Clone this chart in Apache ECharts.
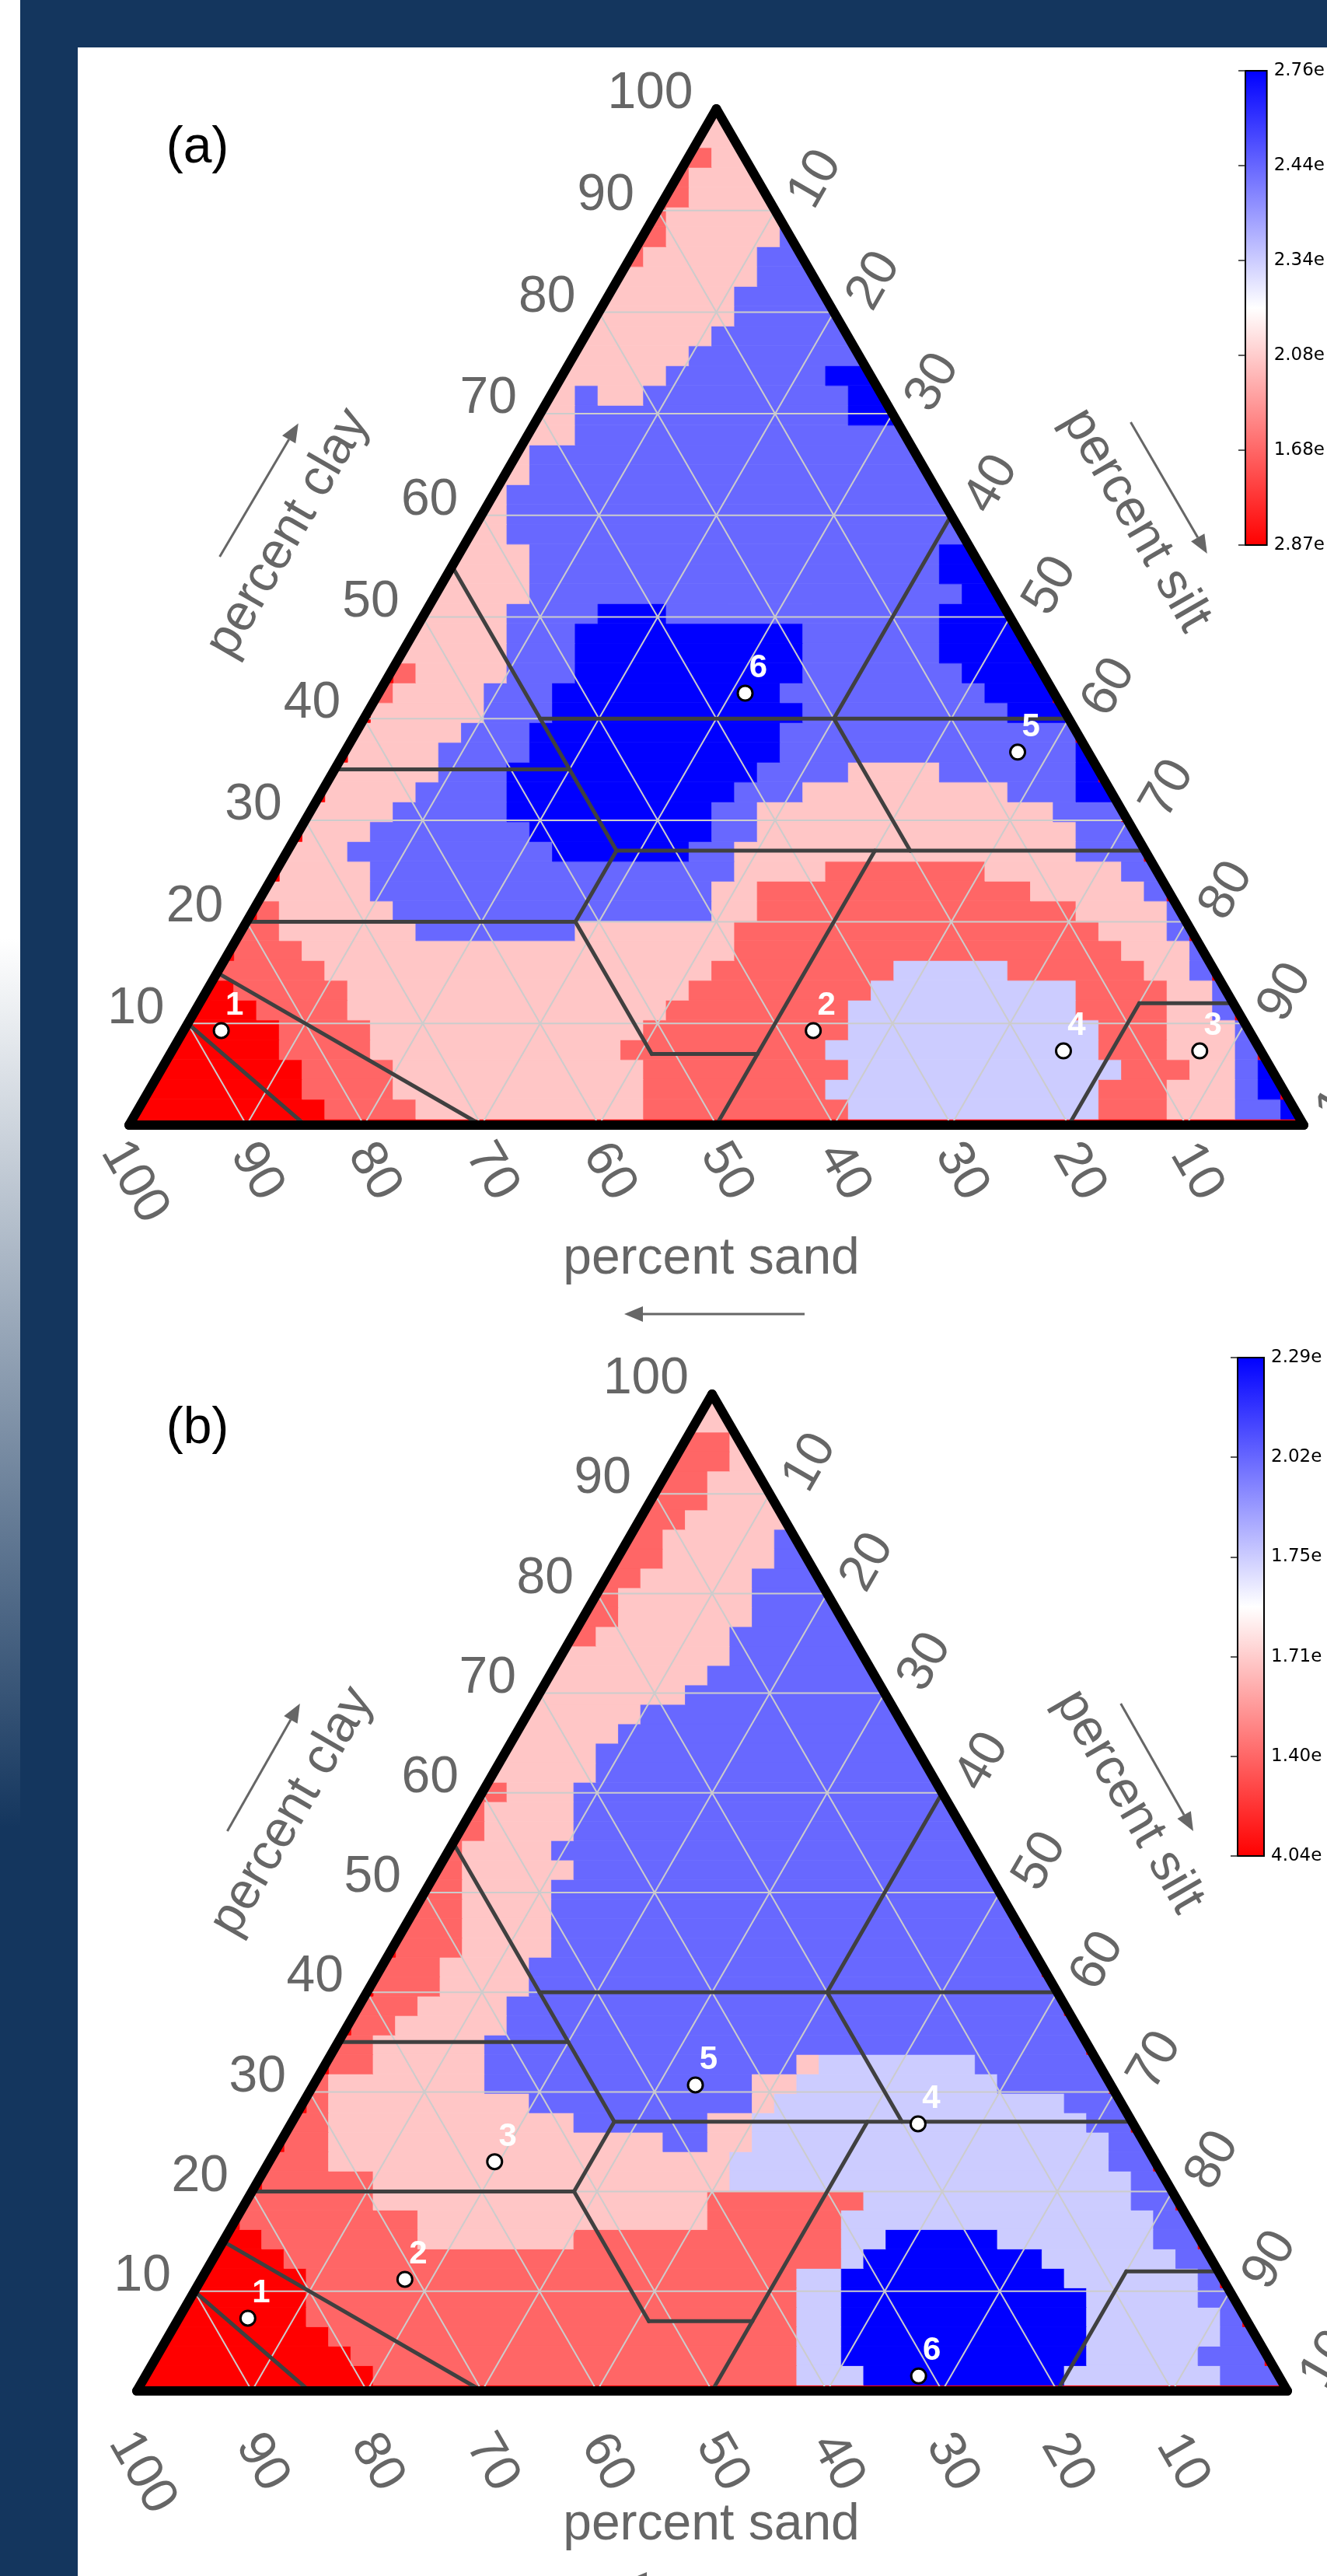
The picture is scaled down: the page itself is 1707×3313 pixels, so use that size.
<!DOCTYPE html>
<html><head><meta charset="utf-8">
<script src="https://cdn.jsdelivr.net/npm/echarts/dist/echarts.min.js"></script>
<style>html,body{margin:0;padding:0;background:#fff}#c{width:1707px;height:3313px}</style>
</head><body><div id="c"></div>
<script>
// ---------------- DATA ----------------
// class letters: R red, M salmon, P pink, L lavender, B mid blue, D deep blue
const classColors = {R:'#FF0000', M:'#FF6666', P:'#FFC6C6', L:'#CCCCFF', B:'#6868FF', D:'#0000FF'};
// rows of cells from bottom (row 0) to top (row 51); "X<n>" = class X starting at column n
const cellRowsA = [
 'R0',
 'R0 M9 P13 M23 L32 M43 P46 B49 D51',
 'R0 M8 P12 M23 L31 M43 P46 B49 D50',
 'R0 M8 P12 M23 L32 M44 P47 B49 D50',
 'R0 M7 P11 M22 L31 M43 P46 B49',
 'R0 M7 P11 M23 L32 M43 P46 B49',
 'R0 M6 P10 M24 L32 M42 P46 B48',
 'R0 M5 P10 M25 L33 M42 P46 B48',
 'M0 P9 M26 L34 M39 P45 B47',
 'M0 P8 M27 P44 B47',
 'M0 P7 B13 P20 M27 P43 B46',
 'M0 P7 B12 P26 M28 P42 B46',
 'P0 B11 P26 M28 P40 B45',
 'P0 B11 P27 M31 P38 B44',
 'P0 B10 D19 B25 P27 B42',
 'P0 B11 D18 B26 P28 B42',
 'P0 B12 D17 B26 P28 B41',
 'P0 B13 D17 B27 P30 B39 D42',
 'P0 B14 D17 B28 P32 B36 D42',
 'P0 B14 D18 B29 D42',
 'P0 B15 D18 B29 D42',
 'P0 B16 D19 B30 D39',
 'P0 M11 P12 B16 D19 B29 D38',
 'P0 M12 P13 B17 D20 B30 D37',
 'P0 B17 D20 B30 D36',
 'P0 B17 D20 B30 D36',
 'P0 B17 D21 B24 D36',
 'P0 B18 D37',
 'P0 B18 D36',
 'P0 B18 D36',
 'P0 B17',
 'P0 B17',
 'P0 B17',
 'P0 B18',
 'P0 B18',
 'P0 B20',
 'P0 B20 D32',
 'P0 B20 P21 B23 D32',
 'P0 B24 D31',
 'P0 B25',
 'P0 B26',
 'P0 B27',
 'P0 B27',
 'P0 B28',
 'M0 P23 B28',
 'M0 P24 B29',
 'M0 P24',
 'M0 P25',
 'M0 P25',
 'M0 P26',
 'P0',
 'P0'
];
const cellRowsB = [
 'R0',
 'R0 M11 L30 D33 L42 B49',
 'R0 M10 L30 D32 L43 B48',
 'R0 M9 L30 D32 L43 B49',
 'R0 M8 L30 D32 L43 B49',
 'R0 M8 L30 D32 L43 B48',
 'R0 M8 L30 D32 L42 B48',
 'R0 M7 L32 D33 L41 B47',
 'R0 M6 P13 M20 L32 D34 L39 B46',
 'M0 P13 M26 L32 B46',
 'M0 P11 M26 L33 B45',
 'M0 P11 L27 B45',
 'M0 P9 L27 B44',
 'M0 P9 B24 P26 L28 B44',
 'M0 P9 B20 P26 L28 B43',
 'M0 P9 B18 P28 L29 B42',
 'M0 P9 B16 P28 L30 B39',
 'M0 P11 B16 P30 L31 B38',
 'M0 P11 B16',
 'M0 P12 B17',
 'M0 P13 B17',
 'M0 P14 B18',
 'M0 P14 B18',
 'M0 P15 B19',
 'M0 P15 B19',
 'M0 P15 B19',
 'M0 P15 B19',
 'M0 P15 B20',
 'M0 P15 B19',
 'M0 P16 B20',
 'M0 P16 B20',
 'M0 P17 B20',
 'P0 B21',
 'P0 B21',
 'P0 B22',
 'P0 B23',
 'P0 B25',
 'P0 B26',
 'P0 B27',
 'M0 P21 B27',
 'M0 P22 B28',
 'M0 P22 B28',
 'M0 P23 B28',
 'M0 P24 B29',
 'M0 P24 B29',
 'M0 P25',
 'M0 P26',
 'M0 P26',
 'M0 P27',
 'M0 P27',
 'P0',
 'P0'
];
// sample points [sand, silt, clay]
const pointLabels = ['1','2','3','4','5','6'];
const pointsA = [[87.5,3.2,9.3],[37.1,53.6,9.3],[5.2,87.5,7.3],[16.8,75.9,7.3],[6.0,57.3,36.7],[26.3,31.2,42.5]];
const pointsB = [[86.7,6.0,7.3],[71.1,17.7,11.2],[57.4,19.6,23.0],[18.7,54.5,26.8],[36.1,33.2,30.7],[31.3,67.2,1.5]];
const tickValues = [10,20,30,40,50,60,70,80,90,100];
const gridValues = [10,20,30,40,50,60,70,80,90];
// USDA texture class boundaries, [sand, silt, clay] end points
const usdaLines = [
 [[45,0,55],[45,28,27]], [[45,15,40],[0,60,40]], [[20,40,40],[0,40,60]],
 [[65,0,35],[45,20,35]], [[45,28,27],[0,73,27]], [[20,40,40],[20,53,27]],
 [[80,0,20],[52,28,20]], [[45,28,27],[52,28,20]], [[52,28,20],[52,41,7]],
 [[52,41,7],[43,50,7]], [[50,50,0],[23,50,27]], [[20,80,0],[8,80,12]],
 [[8,80,12],[0,88,12]], [[90,0,10],[85,15,0]], [[85,0,15],[70,30,0]]
];
const cbarLabelsA = ['2.87e','1.68e','2.08e','2.34e','2.44e','2.76e'];
const cbarLabelsB = ['4.04e','1.40e','1.71e','1.75e','2.02e','2.29e'];

// ---------------- HELPERS ----------------
const NAVY = '#14365E', GRAY = '#666666';
const COLS = 52, SX = 1.9378, SY = 1.951;
const CLS = 'RMPLBD';
const FONT = 'Liberation Sans, Arial, sans-serif';
function tern(sand, silt, clay){ return [silt + clay/2, clay]; }
function parseRows(rows){
  const out = [];
  rows.forEach((s,k)=>{
    const runs = s.trim().split(/\s+/).map(t=>[t[0], parseInt(t.slice(1),10)]);
    runs.forEach((r,i)=>{
      const end = i+1 < runs.length ? runs[i+1][1]-1 : COLS-1;
      out.push([k, r[1], end, CLS.indexOf(r[0])]);
    });
  });
  // lower rows: grid cells whose centre falls outside the triangle show as the lowest colour
  rows.forEach((s,k)=>{
    if (k < 1 || k > 24) return;
    const yc = (k-0.2)*SY;
    for (let n=0;n<COLS;n++){
      const xc = (n+0.1)*SX;
      if (xc < yc/2 || xc > 100-yc/2) out.push([k, n, n, 0]);
    }
  });
  return out;
}
function clipPoly(pts, f){
  const out = [];
  for (let i=0;i<pts.length;i++){
    const a = pts[i], b = pts[(i+1)%pts.length];
    const fa = f(a), fb = f(b);
    if (fa >= 0) out.push(a);
    if ((fa >= 0) !== (fb >= 0)){
      const t = fa/(fa-fb);
      out.push([a[0]+t*(b[0]-a[0]), a[1]+t*(b[1]-a[1])]);
    }
  }
  return out;
}
const triClip = [p=>p[1], p=>p[0]-p[1]/2, p=>100-p[1]/2-p[0], p=>100-p[1]];
function renderCells(params, api){
  const k = api.value(0), c0 = api.value(1), c1 = api.value(2), ci = api.value(3);
  let poly = [[(c0-0.4)*SX,(k-0.7)*SY],[(c1+0.6)*SX,(k-0.7)*SY],[(c1+0.6)*SX,(k+0.3)*SY],[(c0-0.4)*SX,(k+0.3)*SY]];
  for (const f of triClip){ poly = clipPoly(poly, f); if (poly.length < 3) return null; }
  const col = classColors[CLS[ci]];
  return {type:'polygon', shape:{points: poly.map(p=>api.coord(p))}, style:{fill:col, stroke:col, lineWidth:0.8}};
}
function lineRenderer(color, width, cap){
  return function(params, api){
    const p1 = api.coord([api.value(0), api.value(1)]), p2 = api.coord([api.value(2), api.value(3)]);
    return {type:'line', shape:{x1:p1[0],y1:p1[1],x2:p2[0],y2:p2[1]}, style:{stroke:color, lineWidth:width, lineCap:cap}};
  };
}
function segs(list){ return list.map(([a,b])=>[...tern(...a), ...tern(...b)]); }
const gridSegList = [];
gridValues.forEach(v=>{
  gridSegList.push([[100-v,0,v],[0,100-v,v]]);
  gridSegList.push([[v,100-v,0],[v,0,100-v]]);
  gridSegList.push([[100-v,v,0],[0,v,100-v]]);
});
const borderList = [[[100,0,0],[0,100,0]],[[0,100,0],[0,0,100]],[[0,0,100],[100,0,0]]];
const tickData = [];
tickValues.forEach(v=>{
  tickData.push([...tern(100-v,0,v), v, 0]);   // clay, left edge
  tickData.push([...tern(v,100-v,0), v, 1]);   // sand, base
  tickData.push([...tern(0,v,100-v), v, 2]);   // silt, right edge
});
function tickRenderer(sandDy){
  return function(params, api){
    const p = api.coord([api.value(0), api.value(1)]);
    const v = api.value(2), kind = api.value(3);
    const txt = String(v), n = txt.length - 2;
    let x, y, rot = 0, align = 'center';
    if (kind === 0){ x = p[0]-30; y = p[1]-19; align = 'right'; }
    else if (kind === 1){ x = p[0]+13-6.5*n; y = p[1]+sandDy+13*n; rot = -Math.PI/3; }
    else { x = p[0]+52+9*n; y = p[1]-40-16*n; rot = Math.PI/3; }
    return {type:'text', x, y, rotation: rot, style:{text:txt, fill:GRAY, fontSize:66, fontFamily:FONT, align, verticalAlign:'middle'}};
  };
}
function renderPoint(params, api){
  const p = api.coord([api.value(0), api.value(1)]);
  const lbl = pointLabels[api.value(2)];
  return {type:'group', children:[
    {type:'circle', shape:{cx:p[0], cy:p[1], r:9.5}, style:{fill:'#fff', stroke:'#000', lineWidth:3}},
    {type:'text', x:p[0]+17, y:p[1]-32, style:{text:lbl, fill:'#fff', fontSize:42, fontWeight:'bold', fontFamily:FONT, align:'center', verticalAlign:'middle'}}
  ]};
}
function renderCbar(params, api){
  const a = api.coord([0,0]), b = api.coord([1,5]);
  return {type:'rect', shape:{x:a[0], y:b[1], width:b[0]-a[0], height:a[1]-b[1]},
    style:{fill:{type:'linear',x:0,y:0,x2:0,y2:1,colorStops:[{offset:0,color:'#0000FF'},{offset:0.5,color:'#FFFFFF'},{offset:1,color:'#FF0000'}]}, stroke:'#000', lineWidth:2}};
}
function panelSeries(idx, rows, pts, sandDy){
  return [
    {type:'custom', xAxisIndex:idx, yAxisIndex:idx, z:2, clip:false, renderItem:renderCells, data:parseRows(rows), animation:false},
    {type:'custom', xAxisIndex:idx, yAxisIndex:idx, z:3, clip:false, renderItem:lineRenderer('#CCCCCC',2,'butt'), data:segs(gridSegList), animation:false},
    {type:'custom', xAxisIndex:idx, yAxisIndex:idx, z:4, clip:false, renderItem:lineRenderer('#404040',5,'round'), data:segs(usdaLines), animation:false},
    {type:'custom', xAxisIndex:idx, yAxisIndex:idx, z:5, clip:false, renderItem:lineRenderer('#000000',12,'round'), data:segs(borderList), animation:false},
    {type:'custom', xAxisIndex:idx, yAxisIndex:idx, z:5, clip:false, renderItem:tickRenderer(sandDy), data:tickData, animation:false},
    {type:'custom', xAxisIndex:idx, yAxisIndex:idx, z:6, clip:false, renderItem:renderPoint,
      data: pts.map((p,i)=>[...tern(...p), i]), animation:false}
  ];
}
function arrow(x1,y1,x2,y2){
  const dx=x2-x1, dy=y2-y1, L=Math.hypot(dx,dy), ux=dx/L, uy=dy/L, hl=24, hw=10;
  const bx=x2-ux*hl, by=y2-uy*hl;
  return [
    {type:'line', z:20, shape:{x1,y1,x2:bx,y2:by}, style:{stroke:GRAY, lineWidth:3}},
    {type:'polygon', z:20, shape:{points:[[x2,y2],[bx-uy*hw,by+ux*hw],[bx+uy*hw,by-ux*hw]]}, style:{fill:GRAY}}
  ];
}
function title(text,x,y,rot,color,size){
  return {type:'text', z:20, x, y, rotation:rot||0, style:{text, fill:color||GRAY, fontSize:size||66, fontFamily:FONT, align:'center', verticalAlign:'middle'}};
}
function cbAxis(idx, labels){
  return {gridIndex:idx, type:'category', data:labels, boundaryGap:false, position:'right', z:5,
    axisLine:{show:false}, splitLine:{show:false},
    axisTick:{show:true, inside:true, length:9, interval:0, lineStyle:{color:'#222', width:1.5}},
    axisLabel:{show:true, interval:0, color:'#000', fontSize:23, fontFamily:'DejaVu Sans, sans-serif', margin:9}};
}
const hiddenVal = (g,min,max)=>({gridIndex:g, type:'value', min, max, show:false});

const option = {
  animation:false,
  backgroundColor:'#ffffff',
  grid:[
    {left:166, top:140, width:1511, height:1307},
    {left:176, top:1793, width:1480, height:1282},
    {left:1602, top:91, width:32, height:610},
    {left:1592, top:1746, width:34, height:641}
  ],
  xAxis:[hiddenVal(0,0,100), hiddenVal(1,0,100), hiddenVal(2,0,1), hiddenVal(3,0,1)],
  yAxis:[hiddenVal(0,0,100), hiddenVal(1,0,100), cbAxis(2,cbarLabelsA), cbAxis(3,cbarLabelsB)],
  graphic:[
    {type:'rect', z:0, shape:{x:26,y:0,width:1681,height:3313}, style:{fill:NAVY}},
    {type:'rect', z:0, shape:{x:100,y:61,width:1607,height:3252}, style:{fill:'#ffffff'}},
    {type:'rect', z:0, shape:{x:0,y:1207,width:26,height:1143}, style:{fill:{type:'linear',x:0,y:0,x2:0,y2:1,colorStops:[{offset:0,color:'#ffffff'},{offset:1,color:NAVY}]}}},
    {type:'rect', z:0, shape:{x:0,y:2350,width:26,height:963}, style:{fill:NAVY}},
    title('(a)',254,191,0,'#000'),
    title('(b)',254,1838,0,'#000'),
    title('percent clay',371,686,Math.PI/3),
    title('percent silt',1461,669,-Math.PI/3),
    title('percent sand',915,1620,0),
    title('percent clay',376,2330,Math.PI/3),
    title('percent silt',1452,2317,-Math.PI/3),
    title('percent sand',915,3248,0),
    ...arrow(282.6,716,383.8,544.6),
    ...arrow(1454.5,543,1552.8,712),
    ...arrow(1035,1690,803,1690),
    ...arrow(292.4,2355,385.8,2191),
    ...arrow(1441.7,2191,1535,2355),
    ...arrow(1030,3318,808,3318)
  ],
  series:[
    ...panelSeries(0, cellRowsA, pointsA, 60),
    ...panelSeries(1, cellRowsB, pointsB, 92),
    {type:'custom', xAxisIndex:2, yAxisIndex:2, z:1, clip:false, renderItem:renderCbar, data:[[0]], animation:false},
    {type:'custom', xAxisIndex:3, yAxisIndex:3, z:1, clip:false, renderItem:renderCbar, data:[[0]], animation:false}
  ]
};
const chart = echarts.init(document.getElementById('c'), null, {renderer:'canvas', width:1707, height:3313});
chart.setOption(option);
</script></body></html>
